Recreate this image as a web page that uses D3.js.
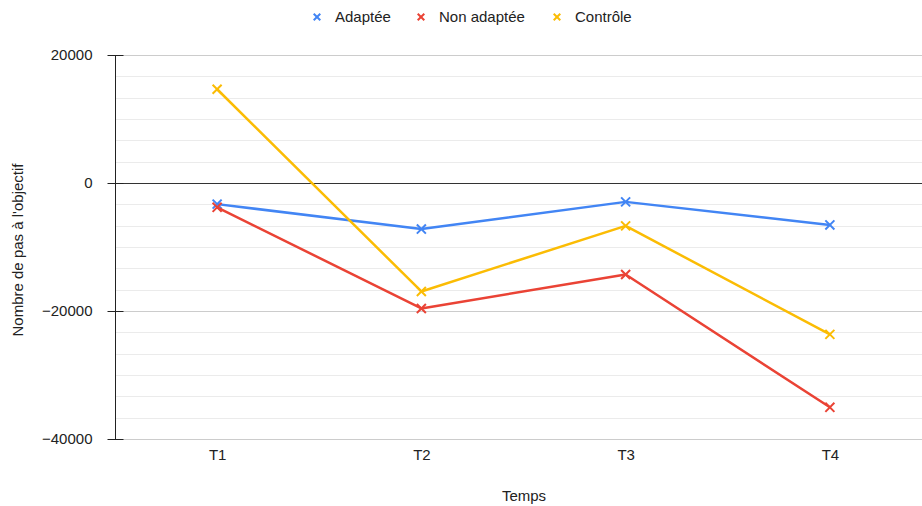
<!DOCTYPE html>
<html>
<head>
<meta charset="utf-8">
<script src="https://cdn.jsdelivr.net/npm/d3@7"></script>
<style>
    body { margin: 0; background: #fff; }
    text { font-family: "Liberation Sans", Arial, sans-serif; fill: #222; }
</style>
</head>
<body>
<div id="chart"></div>
<script>
// Data
var periods = ["T1", "T2", "T3", "T4"];
var adaptee = [-3300, -7200, -2950, -6550];
var nonAdaptee = [-3800, -19600, -14300, -35050];
var controle = [14650, -16950, -6700, -23650];
var yTicks = [20000, 0, -20000, -40000];

var seriesNames = ["Adaptée", "Non adaptée", "Contrôle"];
var seriesColors = ["#4285f4", "#ea4335", "#fbbc04"];

var width = 922, height = 506;

var svg = d3.select("#chart").append("svg")
    .attr("width", width)
    .attr("height", height);

var x = d3.scalePoint()
    .domain(periods)
    .range([115, 932])
    .padding(0.5);

var y = d3.scaleLinear()
    .domain([-40000, 20000])
    .range([439, 55]);

// Minor gridlines (5 between each major)
var minor = d3.range(-40000, 20001, 20000 / 6).filter(function(v) {
    return yTicks.indexOf(Math.round(v)) < 0;
});
svg.append("g").selectAll("line")
    .data(minor)
    .enter().append("line")
        .attr("x1", 115).attr("x2", width)
        .attr("y1", function(d) { return Math.round(y(d)) + 0.5; })
        .attr("y2", function(d) { return Math.round(y(d)) + 0.5; })
        .attr("stroke", "#ebebeb");

// Major gridlines
svg.append("g").selectAll("line")
    .data(yTicks)
    .enter().append("line")
        .attr("x1", 115).attr("x2", width)
        .attr("y1", function(d) { return Math.round(y(d)) + 0.5; })
        .attr("y2", function(d) { return Math.round(y(d)) + 0.5; })
        .attr("stroke", function(d) { return d === 0 ? "#333" : "#cccccc"; });

// Y axis
var yAxis = svg.append("g")
    .attr("transform", "translate(115.5,0)")
    .call(d3.axisLeft(y).tickValues(yTicks).tickSize(8).tickPadding(15).tickFormat(d3.format("d")));
yAxis.select(".domain").attr("stroke", "#222").attr("d", "M0," + y(20000) + "V" + y(-40000));
yAxis.selectAll(".tick line").attr("x1", -8).attr("x2", 8).attr("stroke", "#222");
yAxis.selectAll(".tick text")
    .style("font-size", "15px")
    .attr("fill", "#222")
    .attr("font-family", null);

// X axis labels
var xAxis = svg.append("g")
    .attr("transform", "translate(0," + y(-40000) + ")")
    .call(d3.axisBottom(x).tickSize(0).tickPadding(10));
xAxis.select(".domain").remove();
xAxis.selectAll(".tick text")
    .style("font-size", "15px")
    .attr("fill", "#222")
    .attr("font-family", null);

// Axis titles
svg.append("text")
    .attr("x", 524).attr("y", 501)
    .attr("text-anchor", "middle")
    .style("font-size", "15px")
    .text("Temps");

svg.append("text")
    .attr("transform", "translate(23,250) rotate(-90)")
    .attr("text-anchor", "middle")
    .style("font-size", "15px")
    .text("Nombre de pas à l'objectif");

// Series
var allSeries = [adaptee, nonAdaptee, controle];
var line = d3.line()
    .x(function(d, i) { return x(periods[i]); })
    .y(function(d) { return y(d); });

var cross = d3.symbol().type(d3.symbolX).size(55);

allSeries.forEach(function(values, s) {
    var g = svg.append("g");
    g.append("path")
        .datum(values)
        .attr("d", line)
        .attr("fill", "none")
        .attr("stroke", seriesColors[s])
        .attr("stroke-width", 2.5)
        .attr("stroke-linejoin", "round");
    g.selectAll("path.pt")
        .data(values)
        .enter().append("path")
            .attr("class", "pt")
            .attr("d", cross)
            .attr("transform", function(d, i) { return "translate(" + x(periods[i]) + "," + y(d) + ")"; })
            .attr("stroke", seriesColors[s])
            .attr("stroke-width", 2);
});

// Legend
var legendX = [317, 421, 557];
var legend = svg.append("g");
seriesNames.forEach(function(name, s) {
    legend.append("path")
        .attr("d", d3.symbol().type(d3.symbolX).size(30))
        .attr("transform", "translate(" + legendX[s] + ",17)")
        .attr("stroke", seriesColors[s])
        .attr("stroke-width", 2);
    legend.append("text")
        .attr("x", legendX[s] + 18)
        .attr("y", 22)
        .style("font-size", "15px")
        .text(name);
});
</script>
</body>
</html>
